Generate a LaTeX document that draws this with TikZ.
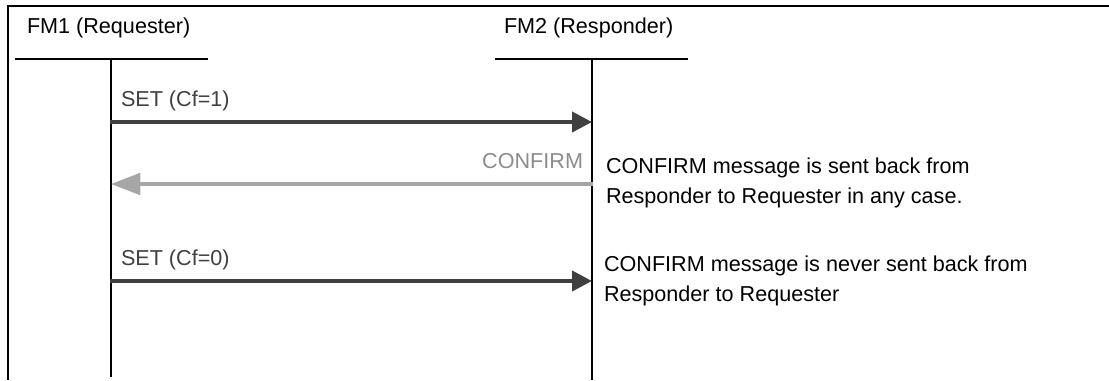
\documentclass[tikz,border=0pt]{standalone}
\usepackage{fontspec}
\setmainfont{Liberation Sans}
\usetikzlibrary{arrows.meta}

\definecolor{msgdark}{HTML}{404040}
\definecolor{msglight}{HTML}{A6A6A6}
\definecolor{lbllight}{HTML}{8C8C8C}

\begin{document}
\begin{tikzpicture}[
            x = 0.75pt, y = -0.75pt, % one unit per pixel, y downwards
            font = \fontsize{16.2}{22.5}\selectfont,
            every node/.style = {inner sep = 0pt, outer sep = 0pt},
            lifeline/.style = {line width = 1.6pt},
            header/.style = {line width = 2.2pt},
            setmsg/.style = {draw = msgdark, line width = 3pt,
                -{Triangle[length = 15pt, width = 15pt]}},
            cnfmsg/.style = {draw = msglight, line width = 3pt,
                -{Triangle[length = 22pt, width = 16pt]}},
            note/.style = {align = left, anchor = base west} % base = last line
        ]

        \useasboundingbox (0,0) rectangle (1109,380);

        % outer frame, open at the right and bottom
        \draw[line width = 2pt] (8,380) -- (8,6) -- (1109,6);

        % the two function modules
        \node[anchor = base west] (req) at (27,33) {FM1 (Requester)};
        \node[anchor = base west] (resp) at (504,33) {FM2 (Responder)};

        \coordinate (req-hl) at (15,59);
        \coordinate (req-hr) at (208,59);
        \coordinate (req-top) at (111,59);
        \coordinate (req-bot) at (111,377);
        \coordinate (resp-hl) at (495,59);
        \coordinate (resp-hr) at (688,59);
        \coordinate (resp-top) at (592,59);
        \coordinate (resp-bot) at (592,380);

        \draw[header] (req-hl) -- (req-hr);
        \draw[header] (resp-hl) -- (resp-hr);
        \draw[lifeline] (req-top) -- (req-bot);
        \draw[lifeline] (resp-top) -- (resp-bot);

        % message end points on the lifelines
        \coordinate (set1-a) at (110,122);
        \coordinate (set1-b) at (592,122);
        \coordinate (cnf-a) at (593,184);
        \coordinate (cnf-b) at (111,184);
        \coordinate (set0-a) at (110,281);
        \coordinate (set0-b) at (592,281);

        \draw[setmsg] (set1-a) -- (set1-b);
        \draw[cnfmsg] (cnf-a) -- (cnf-b);
        \draw[setmsg] (set0-a) -- (set0-b);

        \node[anchor = base west, text = msgdark] (set1) at (121,106) {SET (Cf=1)};
        \node[anchor = base east, text = lbllight] (cnf) at (583,168) {CONFIRM};
        \node[anchor = base west, text = msgdark] (set0) at (121,265) {SET (Cf=0)};

        % remarks beside the responder
        \node[note] (note1) at (606,203)
            {CONFIRM message is sent back from\\Responder to Requester in any case.};
        \node[note] (note0) at (604,301)
            {CONFIRM message is never sent back from\\Responder to Requester};

  \end{tikzpicture}
\end{document}
